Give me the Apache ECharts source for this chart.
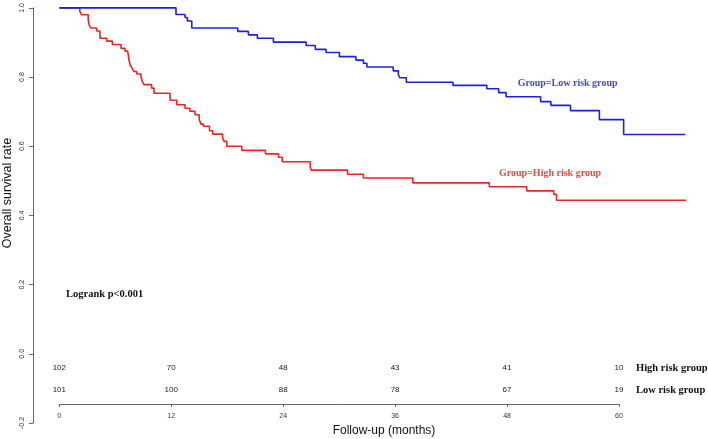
<!DOCTYPE html>
<html><head><meta charset="utf-8">
<script src="https://cdn.jsdelivr.net/npm/echarts@6/dist/echarts.min.js"></script>
<style>html,body{margin:0;padding:0;background:#fff}#c{width:708px;height:439px}</style>
</head><body><div id="c"></div>
<script>
// High risk group KM curve (time in months, survival after drop)
const highRiskTimes = [0, 2.2, 2.4, 3.1, 3.2, 3.37, 4.0, 4.36, 5.08, 5.69, 6.62, 7.05, 7.33, 7.47, 7.6, 7.8, 8.0, 8.3, 8.76, 8.9, 9.08, 9.9, 10.15, 11.87, 12.6, 13.48, 14.0, 14.55, 15.0, 15.2, 15.45, 16.1, 16.45, 17.5, 17.66, 17.95, 19.56, 22.1, 23.5, 23.9, 26.9, 27.0, 30.9, 32.6, 37.9, 46.1, 50.1, 53.0, 53.3, 67.2];
const highRiskSurv  = [1.0, 0.990, 0.980, 0.965, 0.950, 0.942, 0.933, 0.912, 0.904, 0.894, 0.883, 0.875, 0.871, 0.849, 0.835, 0.825, 0.816, 0.809, 0.801, 0.787, 0.778, 0.768, 0.753, 0.733, 0.720, 0.710, 0.701, 0.691, 0.677, 0.664, 0.658, 0.645, 0.635, 0.626, 0.614, 0.600, 0.588, 0.578, 0.568, 0.555, 0.540, 0.531, 0.519, 0.508, 0.494, 0.483, 0.471, 0.461, 0.444, 0.444];
// Low risk group KM curve
const lowRiskTimes = [0, 12.51, 13.48, 13.73, 14.2, 19.13, 20.27, 21.23, 22.95, 26.46, 27.45, 28.6, 30.03, 31.8, 32.6, 32.97, 35.8, 36.35, 36.5, 37.2, 42.2, 45.83, 47.1, 47.9, 51.6, 52.7, 54.8, 57.9, 60.5, 67.1];
const lowRiskSurv  = [1.0, 0.981, 0.972, 0.962, 0.942, 0.932, 0.922, 0.912, 0.901, 0.891, 0.880, 0.871, 0.859, 0.849, 0.840, 0.829, 0.818, 0.806, 0.798, 0.785, 0.776, 0.766, 0.755, 0.743, 0.729, 0.718, 0.703, 0.677, 0.634, 0.634];
// Number at risk table
const riskTimes = [0, 12, 24, 36, 48, 60];
const highRiskAtRisk = [102, 70, 48, 43, 41, 10];
const lowRiskAtRisk  = [101, 100, 88, 78, 67, 19];
const xTickStep = 12;
const yTickStep = 0.2;

const PX_PER_MONTH = 9.328, LEFT = 59.3, XMAX = 68;
const ROW_HIGH = -0.041, ROW_LOW = -0.104;
const SANS = "'Liberation Sans', Arial, sans-serif";
const SERIF = "'Liberation Serif', 'Times New Roman', serif";
const BLUE = '#1f1fe0', RED = '#ec2424';

const chart = echarts.init(document.getElementById('c'), null, {renderer: 'canvas'});
const zip = (a, b) => a.map((t, i) => [t, b[i]]);
const riskSeries = (vals, row) => ({
  type: 'scatter', xAxisIndex: 0, yAxisIndex: 0, silent: true,
  symbolSize: 0, itemStyle: {color: 'rgba(0,0,0,0)'},
  data: riskTimes.map((t, i) => ({value: [t, row], name: String(vals[i])})),
  label: {show: true, position: 'inside', formatter: p => p.name,
    fontFamily: SANS, fontSize: 8, color: '#1a1a1a', opacity: 1}
});
function txt(text, x, y, font, color, align, rot) {
  return {type: 'text', x: x, y: y, rotation: rot || 0, silent: true,
    style: {text: text, x: 0, y: 0, font: font, fill: color,
      textAlign: align, textVerticalAlign: 'middle', verticalAlign: 'middle', align: align}};
}
chart.setOption({
  animation: false,
  backgroundColor: '#fff',
  grid: [
    {left: LEFT, top: 6, bottom: 16, width: XMAX * PX_PER_MONTH},
    {left: LEFT, top: 380, height: 24, width: 60 * PX_PER_MONTH}
  ],
  xAxis: [
    {gridIndex: 0, type: 'value', min: 0, max: XMAX, show: false},
    {gridIndex: 1, type: 'value', min: 0, max: 60, interval: xTickStep,
      axisLine: {onZero: false, lineStyle: {color: '#666', width: 1}},
      axisTick: {length: 3, lineStyle: {color: '#666'}},
      axisLabel: {fontFamily: SANS, fontSize: 7, color: '#333', margin: 9},
      splitLine: {show: false}}
  ],
  yAxis: [
    {gridIndex: 0, type: 'value', min: -0.2, max: 1.0, interval: yTickStep, offset: 26.3,
      axisLine: {show: true, onZero: false, lineStyle: {color: '#666', width: 1}},
      axisTick: {show: true, length: 4, lineStyle: {color: '#666'}},
      axisLabel: {rotate: 90, fontFamily: SANS, fontSize: 7, color: '#333', margin: 7,
        formatter: v => v.toFixed(1)},
      splitLine: {show: false}},
    {gridIndex: 1, type: 'value', show: false}
  ],
  series: [
    {type: 'line', name: 'High risk group', xAxisIndex: 0, yAxisIndex: 0, step: 'end',
      symbol: 'none', lineStyle: {color: RED, width: 1.6}, data: zip(highRiskTimes, highRiskSurv)},
    {type: 'line', name: 'Low risk group', xAxisIndex: 0, yAxisIndex: 0, step: 'end',
      symbol: 'none', lineStyle: {color: BLUE, width: 1.6}, data: zip(lowRiskTimes, lowRiskSurv)},
    riskSeries(highRiskAtRisk, ROW_HIGH),
    riskSeries(lowRiskAtRisk, ROW_LOW)
  ],
  graphic: [
    txt('Overall survival rate', 8, 193, '12.5px ' + SANS, '#111', 'center', Math.PI / 2),
    txt('Follow-up (months)', 384, 430.5, '12px ' + SANS, '#111', 'center'),
    txt('Logrank p<0.001', 66, 294.3, 'bold 10.5px ' + SERIF, '#111', 'left'),
    txt('Group=Low risk group', 517.7, 83, 'bold 10px ' + SERIF, '#4646d8', 'left'),
    txt('Group=High risk group', 499, 173.3, 'bold 10px ' + SERIF, '#ea4a4a', 'left'),
    txt('High risk group', 636, 368, 'bold 10.5px ' + SERIF, '#111', 'left'),
    txt('Low risk group', 636, 390, 'bold 10.5px ' + SERIF, '#111', 'left')
  ]
});
</script></body></html>
